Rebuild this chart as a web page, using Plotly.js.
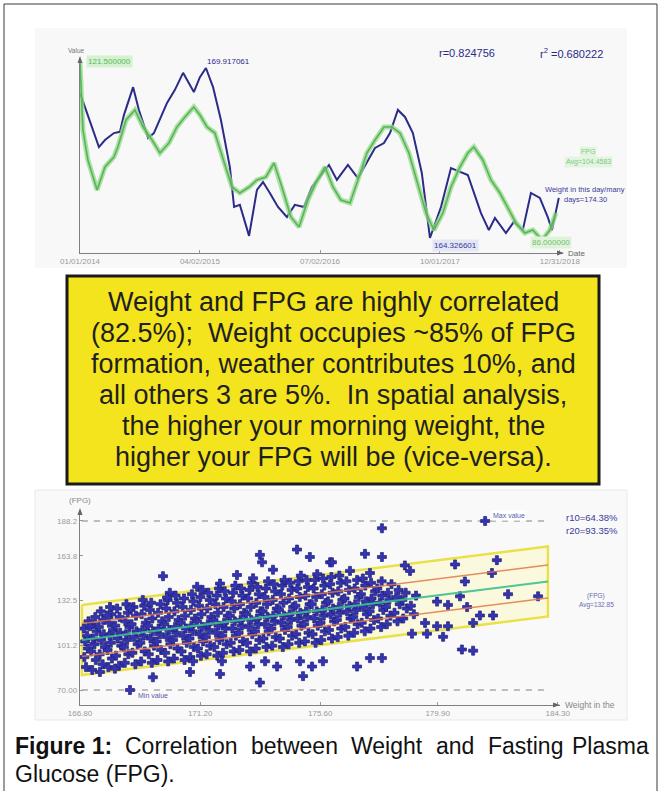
<!DOCTYPE html>
<html><head><meta charset="utf-8">
<script src="https://cdn.plot.ly/plotly-3.0.1.min.js"></script>
<style>html,body{margin:0;padding:0;background:#fff;}#chart{width:661px;height:791px;}</style>
</head><body><div id="chart"></div>
<script>
// ---------- TOP CHART DATA ----------
const weightDates = ["2014-01-01","2014-01-24","2014-03-14","2014-04-06","2014-05-10","2014-06-02","2014-06-17","2014-07-22","2014-08-13","2014-09-17",
"2014-10-09","2014-11-28","2014-12-28","2015-01-28","2015-03-10","2015-04-02","2015-04-25","2015-05-22","2015-06-21","2015-07-25",
"2015-08-10","2015-09-01","2015-10-06","2015-11-05","2015-11-28","2015-12-24","2016-01-24","2016-02-27","2016-03-28","2016-05-02",
"2016-06-01","2016-07-01","2016-08-05","2016-09-04","2016-10-16","2016-11-23","2016-12-27","2017-01-27","2017-03-02","2017-03-25",
"2017-04-24","2017-05-21","2017-06-20","2017-07-24","2017-08-24","2017-10-05","2017-11-12","2017-12-23","2018-01-15","2018-03-06",
"2018-04-05","2018-04-28","2018-06-09","2018-07-09","2018-08-12","2018-09-12","2018-10-16","2018-11-15","2018-12-01","2018-12-27"];
const weightValues = [169.10,168.54,167.32,167.55,167.78,167.82,168.37,169.29,168.54,167.62,
167.78,168.77,169.20,169.76,169.13,169.62,169.92,169.29,168.21,166.66,
165.35,165.42,164.40,165.91,166.17,165.81,165.35,165.02,165.42,165.35,
166.01,166.34,166.73,166.24,166.73,166.30,166.80,167.29,167.45,167.78,
168.54,168.31,167.78,166.47,164.33,165.35,166.63,166.47,166.40,165.15,
164.59,164.99,164.49,164.86,164.59,165.81,165.65,165.02,164.59,165.65];

const fpgDates = ["2014-01-01","2014-01-12","2014-01-31","2014-03-07","2014-04-06","2014-05-10","2014-05-25","2014-06-25","2014-07-29","2014-08-29",
"2014-10-02","2014-11-01","2014-12-05","2015-01-05","2015-02-04","2015-03-10","2015-04-02","2015-04-29","2015-05-29","2015-06-29",
"2015-08-02","2015-09-01","2015-10-06","2015-11-05","2015-12-09","2016-01-09","2016-02-08","2016-03-13","2016-04-13","2016-05-17",
"2016-06-16","2016-07-21","2016-08-20","2016-09-19","2016-10-24","2016-11-23","2016-12-27","2017-01-27","2017-03-02","2017-04-01",
"2017-05-02","2017-06-05","2017-07-05","2017-08-09","2017-09-08","2017-10-12","2017-11-12","2017-12-16","2018-01-15","2018-02-07",
"2018-03-13","2018-04-13","2018-05-17","2018-06-16","2018-07-17","2018-08-20","2018-09-19","2018-10-24","2018-11-23","2018-12-16"];
const fpgValues = [121.50,107.94,101.96,95.97,100.56,102.55,104.55,109.93,111.93,108.54,
105.94,103.35,105.35,108.54,110.53,112.53,110.93,108.54,107.34,101.96,
96.57,95.37,96.57,97.97,98.56,101.36,96.57,90.59,88.59,93.98,
97.37,100.56,96.57,93.98,93.38,97.97,103.35,105.94,108.54,108.54,
107.34,103.35,97.97,91.38,87.99,91.38,96.57,100.56,103.35,104.55,
101.96,97.97,95.37,92.58,89.39,87.40,87.99,86.00,87.99,91.38];

const dateTickVals = ["2014-01-01","2015-04-02","2016-07-02","2017-10-01","2018-12-31"];
const dateTickText = ["01/01/2014","04/02/2015","07/02/2016","10/01/2017","12/31/2018"];

// ---------- BOTTOM CHART DATA ----------
const blobWeight = [
167.02,166.96,167.09,166.99,167.06,166.94,167.11,
167.25,167.38,167.21,167.33,167.28,167.41,167.24,167.36,
167.63,167.52,167.71,167.58,167.67,167.49,167.65,167.56,
167.84,167.97,167.81,167.93,167.88,168.01,167.86,167.95,167.90,
168.23,168.12,168.31,168.18,168.27,168.09,168.25,168.16,
168.44,168.57,168.41,168.53,168.48,168.61,168.46,168.55,168.50,
168.83,168.72,168.91,168.78,168.87,168.69,168.85,168.76,
169.04,169.17,169.01,169.13,169.08,169.21,169.06,169.15,169.10,
169.43,169.32,169.51,169.38,169.47,169.29,169.45,169.36,169.41,
169.64,169.77,169.61,169.73,169.68,169.81,169.66,169.75,
170.03,169.92,170.11,169.98,170.07,169.89,170.05,169.96,170.01,170.09,
170.24,170.37,170.21,170.33,170.28,170.41,170.26,170.35,170.30,
170.63,170.52,170.71,170.58,170.67,170.49,170.65,170.56,170.61,
170.84,170.97,170.81,170.93,170.88,171.01,170.86,170.95,170.90,
171.23,171.12,171.31,171.18,171.27,171.09,171.25,171.16,171.21,171.29,
171.44,171.57,171.41,171.53,171.48,171.61,171.46,171.55,171.50,
171.83,171.72,171.91,171.78,171.87,171.69,171.85,171.76,171.81,171.89,
172.04,172.17,172.01,172.13,172.08,172.21,172.06,172.15,172.10,
172.43,172.32,172.51,172.38,172.47,172.29,172.45,172.36,172.41,172.49,
172.64,172.77,172.61,172.73,172.68,172.81,172.66,172.75,172.70,
173.03,172.92,173.11,172.98,173.07,172.89,173.05,172.96,173.01,173.09,
173.24,173.37,173.21,173.33,173.28,173.41,173.26,173.35,173.30,
173.63,173.52,173.71,173.58,173.67,173.49,173.65,173.56,173.61,173.69,
173.84,173.97,173.81,173.93,173.88,174.01,173.86,173.95,173.90,
174.23,174.12,174.31,174.18,174.27,174.09,174.25,174.16,174.21,174.29,
174.44,174.57,174.41,174.53,174.48,174.61,174.46,174.55,174.50,
174.83,174.72,174.91,174.78,174.87,174.69,174.85,174.76,174.81,174.89,
175.04,175.17,175.01,175.13,175.08,175.21,175.06,175.15,175.10,
175.43,175.32,175.51,175.38,175.47,175.29,175.45,175.36,175.41,175.49,
175.64,175.77,175.61,175.73,175.68,175.81,175.66,175.75,175.70,
176.03,175.92,176.11,175.98,176.07,175.89,176.05,175.96,176.01,
176.24,176.37,176.21,176.33,176.28,176.41,176.26,176.35,176.30,
176.63,176.52,176.71,176.58,176.67,176.49,176.65,176.56,
176.84,176.97,176.81,176.93,176.88,177.01,176.86,176.95,
177.23,177.12,177.31,177.18,177.27,177.09,177.25,177.16,
177.44,177.57,177.41,177.53,177.48,177.61,177.46,
177.83,177.72,177.91,177.78,177.87,177.69,177.85,
178.04,178.17,178.01,178.13,178.08,178.21,
178.43,178.32,178.51,178.38,178.47,
178.64,178.77,178.61,178.73,
179.03,178.92,179.11];
const blobFpg = [
86,93,99,104,108,113,118,
84,91,97,102,106,111,116,121,
88,95,100,105,109,114,119,125,
86,92,98,103,108,112,117,123,128,
87,94,101,106,110,115,121,127,
89,95,100,105,109,114,118,124,130,
88,96,102,107,111,116,122,128,
90,97,103,108,112,117,123,129,133,
89,95,101,106,111,115,120,126,131,
91,98,104,109,113,118,124,130,
90,96,102,107,112,116,121,127,133,138,
92,99,105,110,114,119,125,131,136,
91,97,103,108,113,117,122,128,134,
93,100,106,111,115,120,126,132,137,
94,99,104,109,114,118,123,129,135,140,
95,101,107,112,116,121,127,133,138,
94,100,105,110,115,119,124,130,136,141,
96,102,108,113,117,122,128,134,139,
97,103,108,113,118,122,127,132,138,143,
98,104,110,115,119,124,130,136,141,
97,103,109,114,119,123,128,134,140,145,
99,105,111,116,120,125,131,137,142,
100,106,111,116,121,125,130,135,141,146,
101,107,113,118,122,127,133,139,144,
100,106,112,117,122,126,131,137,143,147,
102,108,114,119,123,128,134,140,145,
103,109,115,120,124,129,135,141,146,150,
104,110,116,121,125,130,136,142,147,
103,109,115,120,125,130,135,141,147,151,
105,111,117,122,126,131,137,143,148,
106,112,118,123,127,132,138,144,149,
107,113,119,124,128,133,139,145,150,
108,114,120,125,129,134,140,146,
110,116,121,126,130,135,141,147,
111,117,123,128,132,137,143,148,
113,119,125,130,134,139,145,
114,120,126,131,136,141,146,
116,122,128,133,138,144,
118,124,130,135,140,
120,127,133,138,
123,129,136];

const lowWeight = [167.53,168.08,169.47,170.83,170.94,171.93,172.00,173.03,173.39,173.58,174.02,174.86,174.97,175.30,175.70,176.95,177.42,177.86,180.79,181.20,168.63];
const lowFpg    = [82.6,84.9,78.9,82.6,90.1,81.2,90.1,86.4,75.2,90.1,86.4,90.1,79.7,86.4,90.1,86.4,92.3,92.3,98.3,97.5,70.0];

const highWeight = [169.84,172.55,173.39,173.47,174.75,175.22,175.96,173.87,173.14,171.93,171.09,169.99,168.63,167.79,167.17,
177.86,177.24,177.86,176.03,176.69,177.42,178.70,178.89,180.54,182.07,181.89,182.48,183.58,180.90,180.72,180.98,
179.88,180.28,179.88,180.28,179.51,180.10,181.45,181.93,181.20,179.44,178.96,181.64];
const highFpg = [149.6,150.4,164.5,159.3,168.2,163.0,159.3,154.1,148.1,144.4,142.2,134.7,127.3,122.1,114.6,
183.1,165.2,163.0,159.3,153.3,151.8,157.1,153.3,157.8,160.8,151.8,137.0,135.5,145.9,135.5,128.0,
131.8,129.5,114.6,114.6,109.4,107.2,122.1,122.1,116.9,116.9,109.4,188.2];

const bandWeight = [166.87, 183.94];
const fitCenter  = [104.97, 145.90];
const fitUpper1  = [116.5, 157.4];
const fitLower1  = [93.5, 134.4];
const fitUpper2  = [129.5, 170.4];
const fitLower2  = [80.5, 121.4];
const refLevels  = [70, 188.2];
const refSpan    = [166.87, 184.0];

const fpgTickVals = [70, 101.25, 132.5, 163.75, 188.2];
const fpgTickText = ["70.00","101.2","132.5","163.8","188.2"];
const wTickVals = [166.8, 171.2, 175.6, 179.9, 184.3];
const wTickText = ["166.80","171.20","175.60","179.90","184.30"];

const boxLines = [
 "Weight and FPG are highly correlated",
 "(82.5%);\u00a0 Weight occupies ~85% of FPG",
 "formation, weather contributes 10%, and",
 "all others 3 are 5%.\u00a0 In spatial analysis,",
 "the higher your morning weight, the",
 "higher your FPG will be (vice-versa)."
];

// ---------- helpers (pixel -> paper) ----------
const PW = 661, PH = 791;
const fx = x => x / PW;
const fy = y => 1 - y / PH;
const FONT = "Liberation Sans, Arial, sans-serif";
function ann(x, y, text, o) {
  o = o || {};
  return Object.assign({xref:'paper', yref:'paper', x: fx(x), y: fy(y), text: text, showarrow:false,
    xanchor: o.xa || 'center', yanchor: o.ya || 'middle',
    font: {family: o.family || FONT, size: o.size || 6, color: o.color || '#888'}}, o.extra || {});
}
function tri(pts, color) {
  const d = 'M ' + pts.map(p => fx(p[0]) + ',' + fy(p[1])).join(' L ') + ' Z';
  return {type:'path', xref:'paper', yref:'paper', path:d, fillcolor:color, line:{color:color, width:0}};
}

const traces = [];
// top chart
traces.push({x: fpgDates, y: fpgValues, xaxis:'x', yaxis:'y3', mode:'lines', line:{color:'rgba(150,215,140,0.75)', width:5}, hoverinfo:'skip'});
traces.push({x: fpgDates, y: fpgValues, xaxis:'x', yaxis:'y3', mode:'lines', line:{color:'#55b755', width:1.6}});
traces.push({x: weightDates, y: weightValues, xaxis:'x', yaxis:'y', mode:'lines', line:{color:'#2b2b88', width:2}});

// bottom chart
traces.push({x:[bandWeight[0],bandWeight[1],bandWeight[1],bandWeight[0],bandWeight[0]],
  y:[fitUpper2[0],fitUpper2[1],fitLower2[1],fitLower2[0],fitUpper2[0]], xaxis:'x2', yaxis:'y2',
  mode:'lines', fill:'toself', fillcolor:'rgba(255,250,170,0.35)', line:{color:'#e9e14a', width:2.5}});
refLevels.forEach(v => traces.push({x: refSpan, y:[v,v], xaxis:'x2', yaxis:'y2', mode:'lines',
  line:{color:'#a8a8a8', width:1.4, dash:'6px,6px'}}));
const crossMarker = {symbol:'cross', size:7.5, color:'#3434b2', line:{color:'#20207a', width:0.7}};
traces.push({x: blobWeight, y: blobFpg, xaxis:'x2', yaxis:'y2', mode:'markers', marker: crossMarker});
traces.push({x: lowWeight, y: lowFpg, xaxis:'x2', yaxis:'y2', mode:'markers', marker: crossMarker});
traces.push({x: highWeight, y: highFpg, xaxis:'x2', yaxis:'y2', mode:'markers', marker: crossMarker});
traces.push({x: bandWeight, y: fitUpper1, xaxis:'x2', yaxis:'y2', mode:'lines', line:{color:'rgba(225,120,70,0.85)', width:1.5}});
traces.push({x: bandWeight, y: fitLower1, xaxis:'x2', yaxis:'y2', mode:'lines', line:{color:'rgba(225,120,70,0.85)', width:1.5}});
traces.push({x: bandWeight, y: fitCenter, xaxis:'x2', yaxis:'y2', mode:'lines', line:{color:'rgba(60,190,140,0.9)', width:2}});

const axisCommon = {showgrid:false, zeroline:false, showline:true, linecolor:'#808080', linewidth:1.3,
  ticks:'inside', ticklen:3, tickcolor:'#999', tickfont:{family:FONT, size:8, color:'#9a9a9a'}, fixedrange:true};

const annotations = [];
// top chart texts
annotations.push(ann(76, 51, 'Value', {size:6.5, color:'#777'}));
annotations.push(ann(86, 62, '121.500000', {xa:'left', size:8, color:'#5cb85c', extra:{bgcolor:'#d4f1d0'}}));
annotations.push(ann(205, 62, '169.917061', {xa:'left', size:8, color:'#2b2b88'}));
annotations.push(ann(437, 53, 'r=0.824756', {xa:'left', size:11, color:'#2b2b88'}));
annotations.push(ann(538, 53, 'r<sup>2</sup> =0.680222', {xa:'left', size:11, color:'#2b2b88'}));
annotations.push(ann(588, 152, 'FPG', {size:7, color:'#7fc97f', extra:{bgcolor:'#e3f5e0'}}));
annotations.push(ann(588, 162, 'Avg=104.4583', {size:7, color:'#7fc97f', extra:{bgcolor:'#e3f5e0'}}));
annotations.push(ann(585, 190, 'Weight in this day/many', {size:7.5, color:'#3a3a99'}));
annotations.push(ann(585, 200, 'days=174.30', {size:7.5, color:'#3a3a99'}));
annotations.push(ann(432, 245, '164.326601', {xa:'left', size:8, color:'#3a3a99', extra:{bgcolor:'#e3e6f5'}}));
annotations.push(ann(530, 243, '86.000000', {xa:'left', size:8, color:'#6fbf6f', extra:{bgcolor:'#dff3db'}}));
annotations.push(ann(566, 253, 'Date', {xa:'left', size:8, color:'#666'}));
// yellow box lines
boxLines.forEach((t, i) => annotations.push(ann(333, 302 + i * 31, t, {size:27, color:'#1f1f1f'})));
// bottom chart texts
annotations.push(ann(80, 501, '(FPG)', {size:8, color:'#888'}));
annotations.push(ann(563, 705, 'Weight in the', {xa:'left', size:8.5, color:'#888'}));
annotations.push(ann(491, 515, 'Max value', {xa:'left', size:7, color:'#5a5aa8', extra:{bgcolor:'#ffffff'}}));
annotations.push(ann(136, 695, 'Min value', {xa:'left', size:7, color:'#5a5aa8'}));
annotations.push(ann(592, 517, 'r10=64.38%', {size:9.5, color:'#3a3a99'}));
annotations.push(ann(592, 530, 'r20=93.35%', {size:9.5, color:'#3a3a99'}));
annotations.push(ann(596, 596, '(FPG)', {size:6.5, color:'#6a6ab0'}));
annotations.push(ann(596, 605, 'Avg=132.85', {size:6.5, color:'#6a6ab0'}));
// caption (justified)
const capY1 = 746, capY2 = 774;
annotations.push(ann(13, capY1, '<b>Figure 1:</b>', {xa:'left', size:23, color:'#111'}));
[['Correlation',123],['between',249],['Weight',349],['and',434],['Fasting',486]].forEach(w =>
  annotations.push(ann(w[1], capY1, w[0], {xa:'left', size:23, color:'#111'})));
annotations.push(ann(651, capY1, 'Plasma', {xa:'right', size:23, color:'#111'}));
annotations.push(ann(13, capY2, 'Glucose (FPG).', {xa:'left', size:23, color:'#111'}));

const shapes = [
  {type:'rect', xref:'paper', yref:'paper', x0:fx(35), x1:fx(627), y0:fy(268), y1:fy(28), fillcolor:'#f8f8f8', line:{width:0}, layer:'below'},
  {type:'rect', xref:'paper', yref:'paper', x0:fx(35), x1:fx(627), y0:fy(720), y1:fy(490), fillcolor:'#f9f9f9', line:{color:'#e8e8e8', width:1}, layer:'below'},
  {type:'rect', xref:'paper', yref:'paper', x0:fx(4), x1:fx(657), y0:fy(796), y1:fy(4), line:{color:'#3a3a3a', width:1}, fillcolor:'rgba(0,0,0,0)'},
  {type:'rect', xref:'paper', yref:'paper', x0:fx(67), x1:fx(599), y0:fy(484), y1:fy(276), fillcolor:'#f3e41e', line:{color:'#1a1a1a', width:3}},
  tri([[77.5,63],[82.5,63],[80,56]], '#666'),
  tri([[557,250.5],[557,255.5],[564,253]], '#666'),
  tri([[77.5,515],[82.5,515],[80,508]], '#666'),
  tri([[553,702.5],[553,707.5],[560,705]], '#666')
];

const layout = {
  width: PW, height: PH, margin:{l:0, r:0, t:0, b:0}, showlegend:false,
  paper_bgcolor:'#ffffff', plot_bgcolor:'rgba(0,0,0,0)', font:{family:FONT},
  xaxis: Object.assign({}, axisCommon, {domain:[fx(80), fx(563)], type:'date', anchor:'y',
     range:['2014-01-01','2019-01-12'], tickvals: dateTickVals, ticktext: dateTickText, tickmode:'array'}),
  yaxis: Object.assign({}, axisCommon, {domain:[fy(253), fy(58)], anchor:'x', range:[163.837, 170.248], showticklabels:false, ticks:''}),
  yaxis3: {overlaying:'y', anchor:'x', range:[83.407, 122.298], visible:false, fixedrange:true},
  xaxis2: Object.assign({}, axisCommon, {domain:[fx(80), fx(560)], anchor:'y2', range:[166.8, 184.383],
     tickvals: wTickVals, ticktext: wTickText, tickmode:'array'}),
  yaxis2: Object.assign({}, axisCommon, {domain:[fy(705), fy(510)], anchor:'x2', range:[59.51, 195.87],
     tickvals: fpgTickVals, ticktext: fpgTickText, tickmode:'array'}),
  annotations: annotations,
  shapes: shapes
};

Plotly.newPlot('chart', traces, layout, {displayModeBar:false, staticPlot:true});
</script></body></html>
